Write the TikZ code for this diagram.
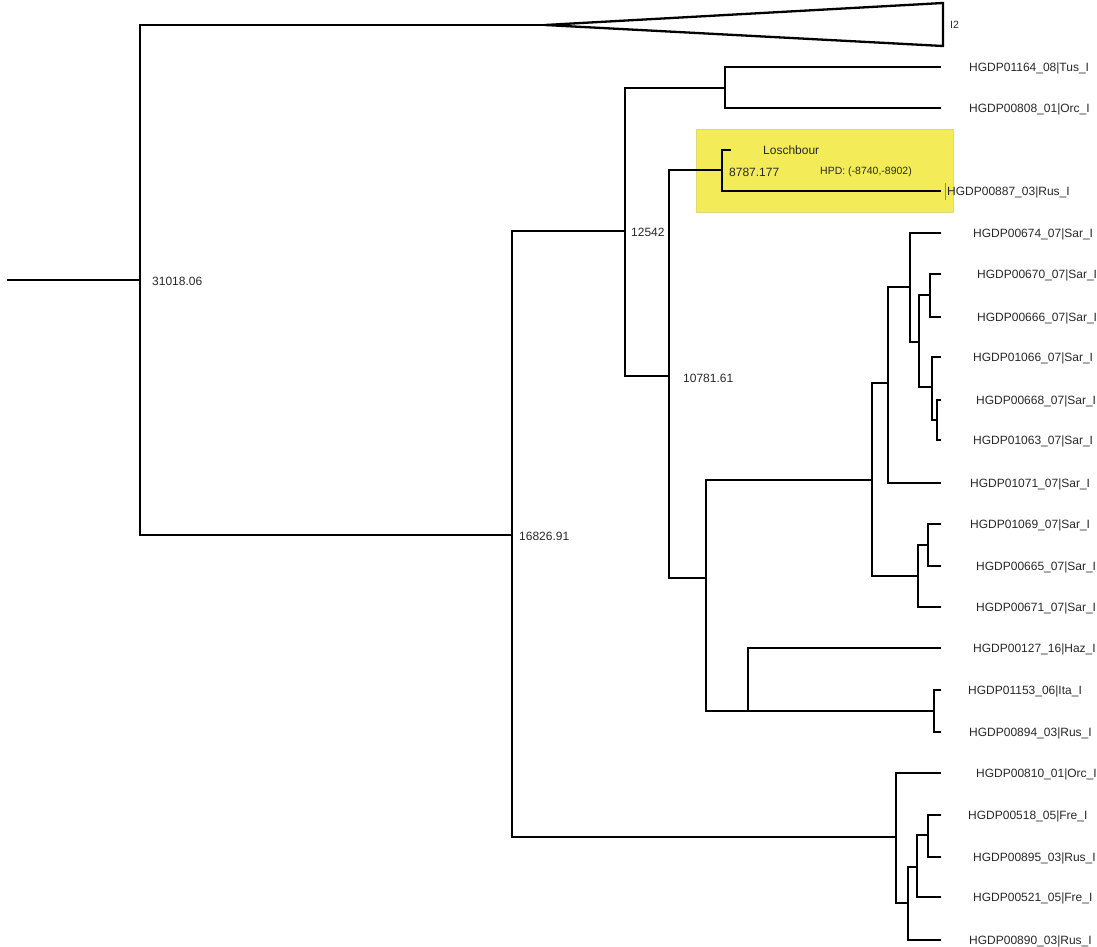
\documentclass[tikz,border=0pt]{standalone}
\usepackage{fontspec}
\setmainfont{Liberation Sans}
\definecolor{hl}{RGB}{243,236,88}
\definecolor{hlborder}{RGB}{222,216,120}
\definecolor{txt}{RGB}{40,40,40}
\begin{document}
\begin{tikzpicture}[x=1pt,y=-1pt,
  br/.style={line width=2.8pt,line join=miter,line cap=rect},
  tri/.style={line width=2.3pt,line join=miter},
  lbl/.style={inner sep=0pt,anchor=base west,font=\fontsize{12}{14}\selectfont,text=txt},
  small/.style={inner sep=0pt,anchor=base west,font=\fontsize{10.5}{12}\selectfont,text=txt}]
\useasboundingbox (0,0) rectangle (1097,947);
% highlight box
\fill[hl,draw=hlborder,line width=0.6pt] (696,129) rectangle (953,212);
% coordinates
\coordinate (r0) at (8,280);
\coordinate (n1) at (140,280);
\coordinate (tA) at (545,25);
\coordinate (tT) at (943,3);
\coordinate (tB) at (943,46);
\coordinate (n2) at (512,535);
\coordinate (n3) at (625,231);
\coordinate (n4) at (725,88);
\coordinate (n5) at (669,376);
\coordinate (n6) at (722,170);
\coordinate (n7) at (706,578);
\coordinate (n8) at (872,480);
\coordinate (n8a) at (888,383);
\coordinate (n8c) at (910,287);
\coordinate (n8d) at (919,342);
\coordinate (n8e) at (930,295);
\coordinate (n8f) at (932,387);
\coordinate (n8g) at (937,420);
\coordinate (n8b) at (918,576);
\coordinate (n8h) at (928,545);
\coordinate (n9) at (748,711);
\coordinate (n9a) at (934,711);
\coordinate (n10) at (896,837);
\coordinate (n10a) at (908,903);
\coordinate (n10b) at (917,867);
\coordinate (n10c) at (928,835);
% leaves
\coordinate (lTus) at (940,67);
\coordinate (lOrc808) at (940,108);
\coordinate (lLosch) at (730,150);
\coordinate (l887) at (940,191);
\coordinate (l674) at (940,233);
\coordinate (l670) at (940,274);
\coordinate (l666) at (940,317);
\coordinate (l1066) at (940,357);
\coordinate (l668) at (940,400);
\coordinate (l1063) at (940,440);
\coordinate (l1071) at (940,483);
\coordinate (l1069) at (940,524);
\coordinate (l665) at (940,566);
\coordinate (l671) at (940,607);
\coordinate (l127) at (940,648);
\coordinate (l1153) at (940,690);
\coordinate (l894) at (940,732);
\coordinate (l810) at (940,773);
\coordinate (l518) at (940,815);
\coordinate (l895) at (940,857);
\coordinate (l521) at (940,897);
\coordinate (l890) at (940,940);
% collapsed clade
\draw[tri] (tA) -- (tT) -- (tB) -- cycle;
% branches
\draw[br] (r0) -- (n1);
\draw[br] (n1) |- (tA);
\draw[br] (n1) |- (n2);
\draw[br] (n2) |- (n3);
\draw[br] (n2) |- (n10);
\draw[br] (n3) |- (n4);
\draw[br] (n3) |- (n5);
\draw[br] (n4) |- (lTus);
\draw[br] (n4) |- (lOrc808);
\draw[br] (n5) |- (n6);
\draw[br] (n5) |- (n7);
\draw[br] (n6) |- (lLosch);
\draw[br] (n6) |- (l887);
\draw[br] (n7) |- (n8);
\draw[br] (n7) |- (n9);
\draw[br] (n8) |- (n8a);
\draw[br] (n8) |- (n8b);
\draw[br] (n8a) |- (n8c);
\draw[br] (n8a) |- (l1071);
\draw[br] (n8c) |- (l674);
\draw[br] (n8c) |- (n8d);
\draw[br] (n8d) |- (n8e);
\draw[br] (n8d) |- (n8f);
\draw[br] (n8e) |- (l670);
\draw[br] (n8e) |- (l666);
\draw[br] (n8f) |- (l1066);
\draw[br] (n8f) |- (n8g);
\draw[br] (n8g) |- (l668);
\draw[br] (n8g) |- (l1063);
\draw[br] (n8b) |- (n8h);
\draw[br] (n8b) |- (l671);
\draw[br] (n8h) |- (l1069);
\draw[br] (n8h) |- (l665);
\draw[br] (n9) |- (l127);
\draw[br] (n9) |- (n9a);
\draw[br] (n9a) |- (l1153);
\draw[br] (n9a) |- (l894);
\draw[br] (n10) |- (l810);
\draw[br] (n10) |- (n10a);
\draw[br] (n10a) |- (n10b);
\draw[br] (n10a) |- (l890);
\draw[br] (n10b) |- (n10c);
\draw[br] (n10b) |- (l521);
\draw[br] (n10c) |- (l518);
\draw[br] (n10c) |- (l895);
% cursor mark
\draw[black!45,line width=0.6pt] (945,183) -- (945,200);
% internal labels
\node[lbl] (v1) at (152,285.3) {31018.06};
\node[lbl] (v2) at (519,540.3) {16826.91};
\node[lbl] (v3) at (631,236.3) {12542};
\node[lbl] (v5) at (683,382.3) {10781.61};
\node[lbl] (v6) at (729,176.3) {8787.177};
\node[lbl] (tLosch) at (763,154.3) {Loschbour};
\node[small] (hpd) at (820,174) {HPD: (-8740,-8902)};
\node[small] (tI2) at (950,29) {I2};
% leaf labels
\node[lbl] (tTus) at (969,71.3) {HGDP01164\_08|Tus\_I};
\node[lbl] (tOrc808) at (969,112.3) {HGDP00808\_01|Orc\_I};
\node[lbl] (t887) at (947,195.3) {HGDP00887\_03|Rus\_I};
\node[lbl] (t674) at (973,237.3) {HGDP00674\_07|Sar\_I};
\node[lbl] (t670) at (977,278.3) {HGDP00670\_07|Sar\_I};
\node[lbl] (t666) at (977,321.3) {HGDP00666\_07|Sar\_I};
\node[lbl] (t1066) at (973,361.3) {HGDP01066\_07|Sar\_I};
\node[lbl] (t668) at (976,404.3) {HGDP00668\_07|Sar\_I};
\node[lbl] (t1063) at (973,444.3) {HGDP01063\_07|Sar\_I};
\node[lbl] (t1071) at (970,487.3) {HGDP01071\_07|Sar\_I};
\node[lbl] (t1069) at (970,528.3) {HGDP01069\_07|Sar\_I};
\node[lbl] (t665) at (976,570.3) {HGDP00665\_07|Sar\_I};
\node[lbl] (t671) at (976,611.3) {HGDP00671\_07|Sar\_I};
\node[lbl] (t127) at (973,652.3) {HGDP00127\_16|Haz\_I};
\node[lbl] (t1153) at (968,694.3) {HGDP01153\_06|Ita\_I};
\node[lbl] (t894) at (969,736.3) {HGDP00894\_03|Rus\_I};
\node[lbl] (t810) at (976,777.3) {HGDP00810\_01|Orc\_I};
\node[lbl] (t518) at (968,819.3) {HGDP00518\_05|Fre\_I};
\node[lbl] (t895) at (973,861.3) {HGDP00895\_03|Rus\_I};
\node[lbl] (t521) at (973,901.3) {HGDP00521\_05|Fre\_I};
\node[lbl] (t890) at (969,944.3) {HGDP00890\_03|Rus\_I};
\end{tikzpicture}
\end{document}
